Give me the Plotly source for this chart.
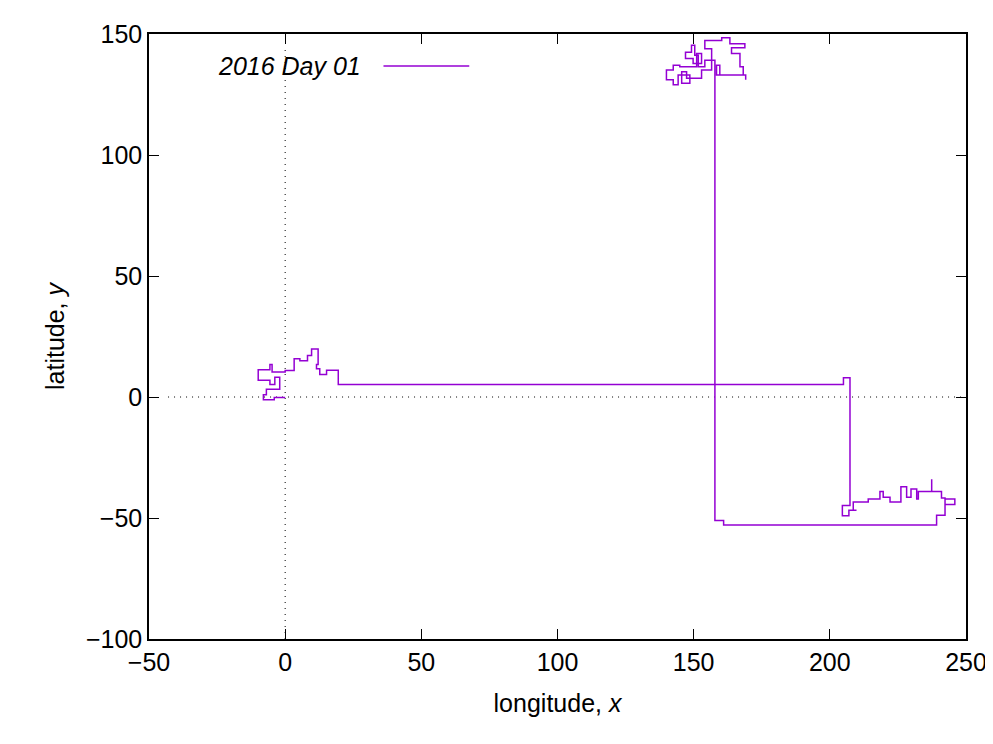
import plotly.graph_objects as go

# random-walk track (data units)
lon = [0.0, -4.0, -4.0, -8.0, -8.0, -6.9, -6.9, -2.0, -2.0, -3.8, -3.8, -5.6, -5.6, -9.9, -9.9, -5.6, -5.6,
       -4.8, -4.8, 0.0, 0.0, 3.3, 3.3, 3.3, 5.4, 5.4, 8.2, 8.2, 9.7, 9.7, 12.1, 12.1, 11.5, 11.5, 12.7, 12.7,
       15.2, 15.2, 19.5, 19.5,
       205.0, 205.0, 207.4, 207.4, 204.6, 204.6, 207.0, 207.0, 209.8, 208.6, 208.6, 214.1, 214.1, 218.4, 218.4,
       219.6, 219.6, 222.1, 222.1, 226.1, 226.1, 228.2, 228.2, 229.8, 229.8, 231.9, 231.9, 232.5, 232.5, 237.4,
       237.4, 237.4, 241.0, 241.0, 242.3, 242.3, 245.9, 245.9, 242.3, 242.3, 239.2, 239.2, 161.0, 161.0, 157.8,
       157.8, 154.1, 154.1, 151.7, 151.7, 150.4, 150.4, 149.2, 149.2, 147.0, 147.0, 149.8, 149.8, 152.9, 152.9,
       151.1, 151.1, 148.6, 144.9, 144.9, 142.5, 142.5, 140.0, 140.0, 142.5, 142.5, 144.3, 144.3, 148.6, 148.6,
       145.6, 145.6, 147.4, 147.4, 152.9, 152.9, 156.6, 156.6, 154.1, 154.1, 160.3, 160.3, 163.3, 163.3, 168.8,
       168.8, 163.9, 163.9, 167.0, 167.0, 168.2, 168.2, 158.4, 158.4, 159.6, 159.6, 169.1, 169.1]
lat = [-0.2, -0.2, -1.1, -1.1, 0.9, 0.9, 3.2, 3.2, 8.2, 8.2, 5.2, 5.2, 6.9, 6.9, 11.3, 11.3, 13.4,
       13.4, 10.3, 10.3, 10.9, 10.9, 15.0, 15.8, 15.8, 15.0, 15.0, 17.2, 17.2, 19.8, 19.8, 13.4, 13.4, 11.7, 11.7,
       9.3, 9.3, 11.1, 11.1, 5.2,
       5.2, 8.0, 8.0, -44.8, -44.8, -49.1, -49.1, -46.8, -46.8, -46.8, -43.4, -43.4, -42.1, -42.1, -39.0,
       -39.0, -41.4, -41.4, -43.4, -43.4, -37.1, -37.1, -41.4, -41.4, -38.0, -38.0, -42.1, -42.1, -39.0, -39.0,
       -34.0, -39.0, -39.0, -41.7, -41.7, -44.4, -44.4, -42.1, -42.1, -48.9, -48.9, -52.9, -52.9, -51.0, -51.0,
       139.2, 139.2, 136.5, 136.5, 141.2, 141.2, 145.3, 145.3, 142.5, 142.5, 139.9, 139.9, 137.8, 137.8, 141.9,
       141.9, 136.5, 136.5, 136.5, 137.1, 137.1, 135.1, 135.1, 131.1, 131.1, 129.0, 129.0, 133.1, 133.1, 129.7,
       129.7, 134.4, 134.4, 131.7, 131.7, 135.1, 135.1, 143.9, 143.9, 147.3, 147.3, 148.4, 148.4, 146.0, 146.0,
       144.3, 144.3, 141.9, 141.9, 136.5, 136.5, 133.1, 133.1, 137.1, 137.1, 133.1, 133.1, 131.1]

x_ticks = [-50, 0, 50, 100, 150, 200, 250]
y_ticks = [-100, -50, 0, 50, 100, 150]
legend_label = "<i>2016 Day 01</i>"

FONT = dict(family="Liberation Sans, Arial, sans-serif", size=25, color="black")
COLOR = "#9400D3"

fig = go.Figure(go.Scatter(x=lon, y=lat, mode="lines", line=dict(color=COLOR, width=1.5),
                           showlegend=False, hoverinfo="skip"))

axis_common = dict(showgrid=False, zeroline=False, showline=True, linecolor="black", linewidth=1.5,
                   mirror="allticks", ticks="inside", ticklen=10, tickcolor="black", tickfont=FONT)
fig.update_xaxes(range=[-50, 250], tickvals=x_ticks,
                 title=dict(text="longitude, <i>x</i>", font=FONT, standoff=20), **axis_common)
fig.update_yaxes(range=[-100, 150], tickvals=y_ticks,
                 title=dict(text="latitude, <i>y</i>", font=FONT, standoff=14), **axis_common)

# dotted zero axes
zero_line = dict(color="black", width=1, dash="1px,5px")
fig.add_shape(type="line", xref="x", yref="y", x0=-43, x1=250, y0=0, y1=0, line=zero_line, layer="below")
fig.add_shape(type="line", xref="x", yref="y", x0=0, x1=0, y0=-100, y1=145, line=zero_line, layer="below")

# gnuplot-style key: text then line sample
fig.add_annotation(xref="paper", yref="paper", x=0.262, y=0.947, xanchor="right", yanchor="middle",
                   text=legend_label, showarrow=False, font=FONT)
fig.add_shape(type="line", xref="paper", yref="paper", x0=0.287, x1=0.392, y0=0.947, y1=0.947,
              line=dict(color=COLOR, width=1.5))

fig.update_layout(width=993, height=744, margin=dict(l=141, r=35, t=15, b=113),
                  plot_bgcolor="white", paper_bgcolor="white", font=FONT)

fig.write_html("out.html")
